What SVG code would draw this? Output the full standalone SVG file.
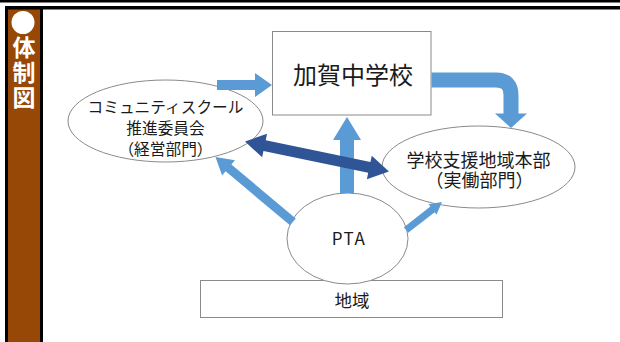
<svg xmlns="http://www.w3.org/2000/svg" width="620" height="342" viewBox="0 0 620 342">
<style>
.jp{font-family:"Noto Sans CJK JP","Noto Sans",sans-serif;fill:#1a1a1a;text-anchor:middle}
.node{fill:#fff;stroke:#8a8a8a;stroke-width:1}
.lb{fill:#5b9bd5}
.db{fill:#2f5597}
.side{font-family:"Noto Sans CJK JP",sans-serif;font-weight:bold;fill:#fff;font-size:23px;text-anchor:middle}
</style>
<rect width="620" height="342" fill="#fff"/>
<g id="frame">
<rect x="0" y="0" width="620" height="2.5" fill="#000"/>
<rect x="5" y="6" width="615" height="3.5" fill="#000"/>
<rect x="5" y="6" width="38" height="336" fill="#000"/>
<rect x="8" y="9.5" width="32" height="332.5" fill="#974706"/>
<circle cx="23" cy="22.5" r="11.5" fill="#fff"/>
<text class="side" x="24" y="56">体</text>
<text class="side" x="24" y="81">制</text>
<text class="side" x="24" y="106">図</text>
</g>
<g id="school">
<rect class="node" x="272.5" y="31.5" width="158.5" height="83.5"/>
<text class="jp" x="353" y="84" font-size="24">加賀中学校</text>
</g>
<g id="community">
<ellipse class="node" cx="165.5" cy="121" rx="97.5" ry="41"/>
<text class="jp" x="165.5" y="113.4" font-size="15.7">コミュニティスクール</text>
<text class="jp" x="165.5" y="134.4" font-size="15.7">推進委員会</text>
<text class="jp" x="165.5" y="155" font-size="15.7">（経営部門）</text>
</g>
<g id="support">
<ellipse class="node" cx="478.5" cy="167" rx="96.5" ry="41"/>
<text class="jp" x="478.5" y="166.8" font-size="18">学校支援地域本部</text>
<text class="jp" x="479.5" y="186.8" font-size="18">（実働部門）</text>
</g>
<g id="region">
<rect class="node" x="200.5" y="280.5" width="302" height="37"/>
<text class="jp" x="352" y="307" font-size="17.5">地域</text>
</g>
<g id="pta">
<ellipse class="node" cx="347.5" cy="238.5" rx="60.5" ry="45.5"/>
<text class="jp" x="349" y="245" font-size="17" letter-spacing="1.5">PTA</text>
</g>
<g id="connectors">
<polygon class="lb" points="217,80 255,80 255,73 272,85 255,97 255,90 217,90"/>
<path d="M431.5 80 H496 Q511 80 511 95 V114" fill="none" stroke="#5b9bd5" stroke-width="15"/>
<polygon class="lb" points="495,113.5 527,113.5 511,128"/>
<polygon class="lb" points="340,193 340,140 333,140 347,117 361,140 354,140 354,193"/>
<g transform="translate(245,141.5) rotate(11.77)">
<polygon class="db" points="0,0 20,-12 20,-5.5 127,-5.5 127,-12 147,0 127,12 127,5.5 20,5.5 20,12"/>
</g>
<g transform="translate(215.5,157) rotate(40)">
<polygon class="lb" points="0,0 17,-10 17,-4.5 101,-4.5 101,4.5 17,4.5 17,10"/>
</g>
<g transform="translate(442,202) rotate(142.1)">
<polygon class="lb" points="0,0 12,-6.5 12,-3.5 45.6,-3.5 45.6,3.5 12,3.5 12,6.5"/>
</g>
</g>
</svg>
